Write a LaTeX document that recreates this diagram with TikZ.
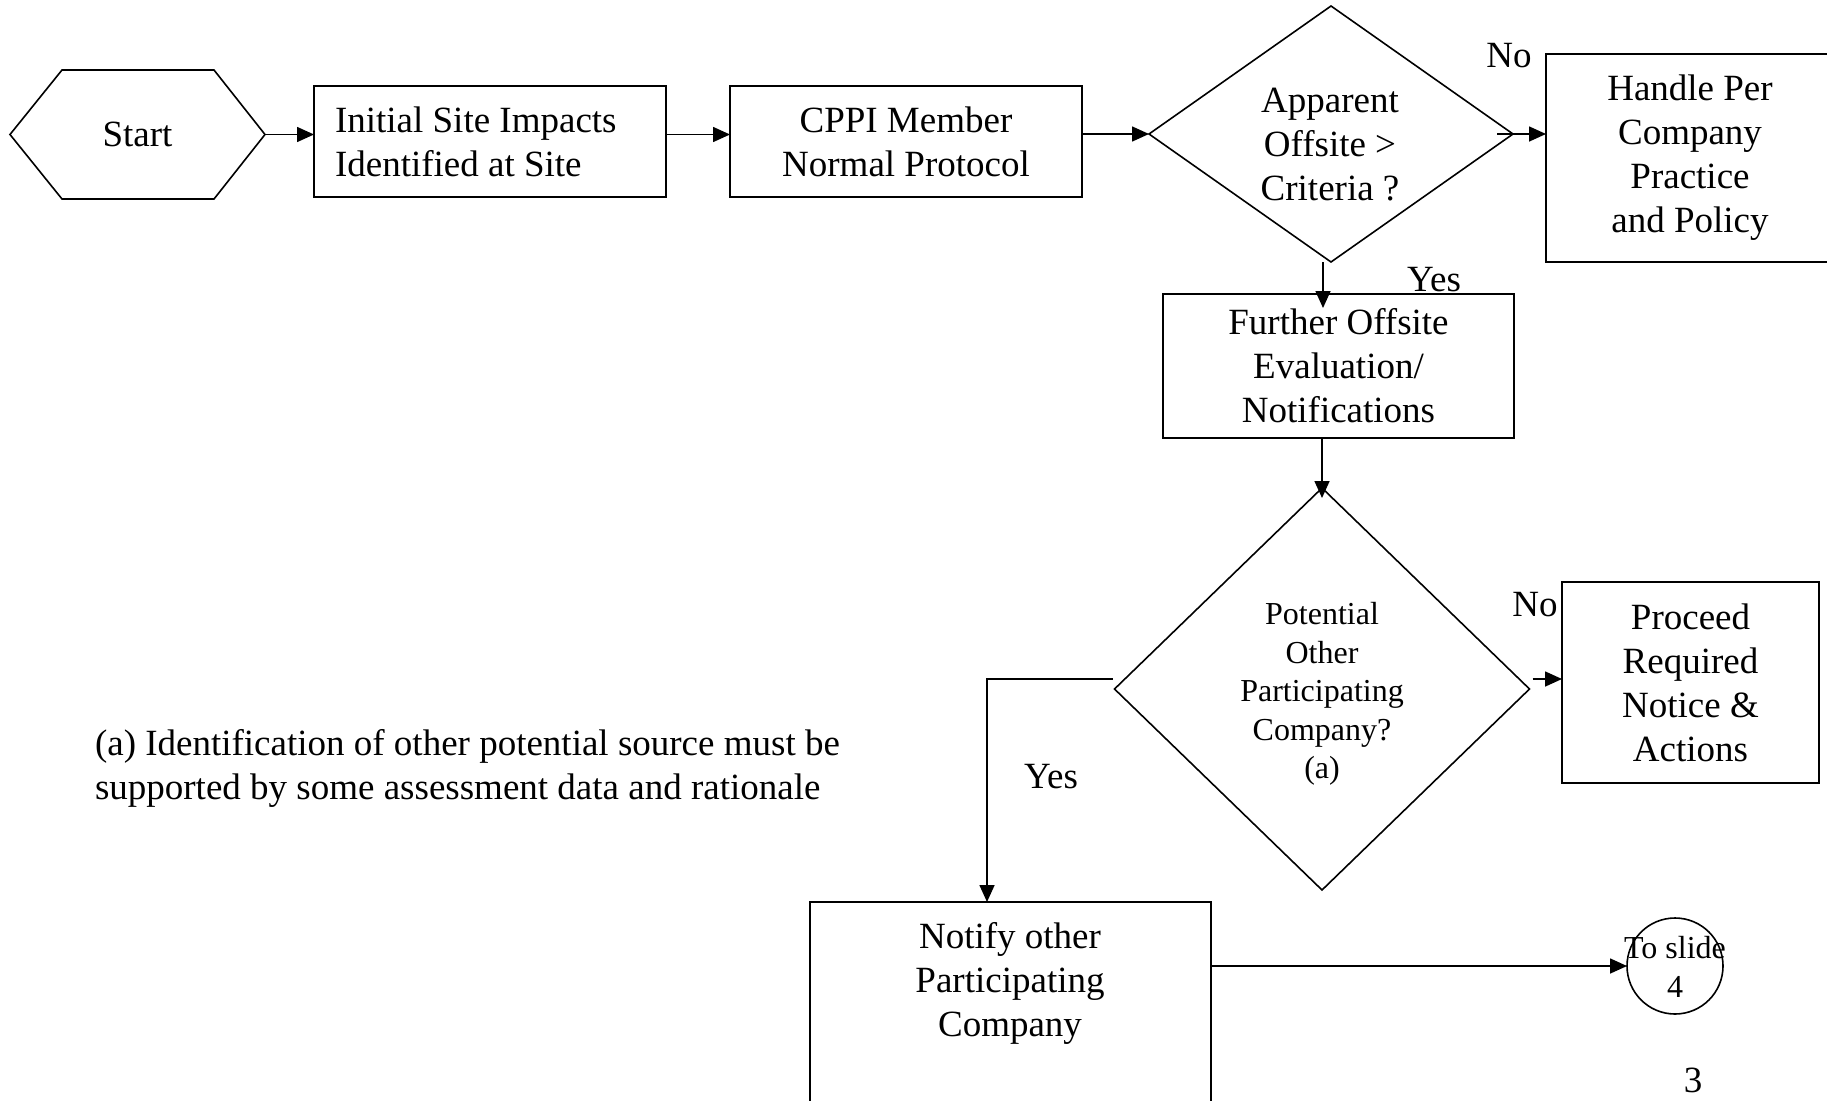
\documentclass[tikz,border=0pt]{standalone}
\usepackage{fontspec}
\setmainfont{Liberation Serif}
\usetikzlibrary{shapes.geometric,arrows.meta,calc}
\tikzset{
  fbig/.style={font=\fontsize{37}{44}\selectfont},
  fsmall/.style={font=\fontsize{32}{38.5}\selectfont},
  box/.style={draw, line width=2pt, inner sep=0pt, outer sep=0pt, align=center, fbig},
  decision/.style={draw, diamond, line width=1.6pt, inner sep=0pt, outer sep=0pt},
  txt/.style={inner sep=0pt, outer sep=0pt, align=center},
  conn/.style={line width=1.6pt, -{Triangle[length=17pt,width=15pt]}},
}
\begin{document}
\begin{tikzpicture}[x=1pt,y=-1pt]
\useasboundingbox (0,0) rectangle (1827,1100);

% Start hexagon
\node[txt, fbig, minimum width=255pt, minimum height=129pt] (start) at (137.5,134.5) {Start};
\draw[line width=1.6pt] (start.west) -- ([xshift=52pt]start.north west) -- ([xshift=-51pt]start.north east)
  -- (start.east) -- ([xshift=-51pt]start.south east) -- ([xshift=52pt]start.south west) -- cycle;

% Boxes
\node[box, minimum width=352pt, minimum height=111pt] (b1) at (490,141.5) {};
\node[txt, fbig, align=left, anchor=west] (b1t) at (335,142) {Initial Site Impacts\\Identified at Site};
\node[box, minimum width=352pt, minimum height=111pt] (b2) at (906,141.5)
  {CPPI Member\\Normal Protocol};

% Decision 1
\node[decision, minimum width=364pt, minimum height=256pt] (d1) at (1331,134) {};
\node[txt, fbig] (d1t) at (1330,145) {Apparent\\Offsite >\\Criteria ?};

\node[box, minimum width=288pt, minimum height=208pt] (handle) at (1690,158)
  {Handle Per\\Company\\Practice\\and Policy};
\node[txt, fbig] (no1) at (1509,56) {No};

\node[box, minimum width=351pt, minimum height=144pt] (further) at (1338.5,366)
  {Further Offsite\\Evaluation/\\Notifications};
\node[txt, fbig] (yes1) at (1434,280) {Yes};

% Decision 2
\node[decision, minimum width=415pt, minimum height=402pt] (d2) at (1322,689) {};
\node[txt, fsmall] (d2t) at (1322,694) {Potential\\Other\\Participating\\Company?\\(a)};

\node[box, minimum width=257pt, minimum height=201pt] (proceed) at (1690.5,682.5)
  {Proceed\\Required\\Notice \&\\Actions};
\node[txt, fbig] (no2) at (1535,605) {No};

\node[txt, fbig] (yes2) at (1051,777) {Yes};

\node[box, minimum width=401pt, minimum height=208pt] (notify) at (1010.5,1006) {};
\node[txt, fbig] (notifyt) at (1010,983) {Notify other\\Participating\\Company};

% Off-page connector
\node[draw, circle, line width=1.6pt, minimum size=96pt, inner sep=0pt, outer sep=0pt] (slide) at (1675,966) {};
\node[txt, fsmall] (slidet) at (1675,967) {To slide\\4};

% Footnote and page number
\node[txt, fbig, align=left, anchor=base west] (note) at (95,799)
  {(a) Identification of other potential source must be\\supported by some assessment data and rationale};
\node[txt, fbig] (page) at (1693,1080) {3};

% Connectors
\draw[conn] (start.east) -- (start.east -| b1.west);
\draw[conn] (b1.east |- start.east) -- (b2.west |- start.east);
\draw[conn] (b2.east |- d1.west) -- (d1.west);
\draw[conn] ([xshift=-16pt]d1.east) -- (d1.east -| handle.west);
\coordinate (d1s) at ([xshift=-8pt]d1.south);
\draw[conn, shorten >=-14pt] (d1s) -- (d1s |- further.north);
\draw[conn, shorten >=-10pt] (further.south -| d2.north) -- (d2.north);
\coordinate (d2e) at ([xshift=3pt,yshift=10pt]d2.east);
\draw[conn] (d2e) -- (d2e -| proceed.west);
\coordinate (d2w) at ([xshift=-2pt,yshift=10pt]d2.west);
\draw[conn] (d2w) -| ([xshift=-23.5pt]notify.north);
\draw[conn] (notify.east |- slide.west) -- (slide.west);
\end{tikzpicture}
\end{document}
